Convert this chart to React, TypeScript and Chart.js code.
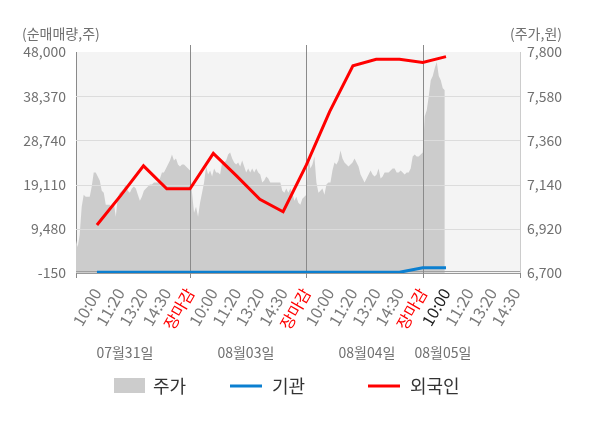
import { useEffect, useRef } from "react";
import { Chart, registerables } from "chart.js";

Chart.register(...registerables);

const FONT = "'Noto Sans CJK KR', 'Noto Sans', sans-serif";

// x-axis slot labels (5 slots per trading day, last one = close)
const timeLabels = ["10:00", "11:20", "13:20", "14:30", "장마감"];
const dates = ["07월31일", "08월03일", "08월04일", "08월05일"];
const leftTicks = [-150, 9480, 19110, 28740, 38370, 48000];
const rightTicks = [6700, 6920, 7140, 7360, 7580, 7800];

// intraday price (원), evenly sampled through each day
const price0731 = [
  6870, 6830, 6890, 7030, 7090, 7080, 7080, 7080, 7130, 7200,
  7200, 7180, 7160, 7110, 7100, 7040, 7040, 7040, 7020, 7050,
  6980, 7080, 7100, 7110, 7120, 7140, 7110, 7100, 7120, 7130,
  7120, 7090, 7060, 7080, 7110, 7120, 7130, 7140, 7140, 7150,
  7150, 7150, 7170, 7200, 7200, 7220, 7240, 7260, 7290, 7260,
  7270, 7240, 7230, 7240, 7240, 7230, 7220, 7210,
];
const price0803 = [
  7100, 7000, 7030, 6980, 7050, 7100, 7150, 7230, 7190, 7210,
  7180, 7220, 7200, 7200, 7190, 7250, 7250, 7260, 7290, 7300,
  7270, 7250, 7240, 7250, 7230, 7260, 7230, 7200, 7220, 7200,
  7220, 7200, 7220, 7200, 7190, 7150, 7160, 7180, 7170, 7150,
  7150, 7150, 7150, 7150, 7150, 7110, 7100, 7120, 7100, 7120,
  7100, 7060, 7080, 7050, 7040, 7070, 7080, 7090,
];
const price0804 = [
  7280, 7220, 7240, 7280, 7150, 7100, 7110, 7120, 7090, 7140,
  7150, 7150, 7210, 7250, 7240, 7260, 7310, 7270, 7250, 7240,
  7230, 7240, 7250, 7270, 7250, 7230, 7190, 7170, 7150, 7170,
  7190, 7210, 7190, 7180, 7190, 7220, 7170, 7180, 7200, 7200,
  7200, 7210, 7220, 7220, 7200, 7200, 7210, 7200, 7190, 7200,
  7200, 7220, 7280, 7290, 7280, 7280, 7290, 7300,
];
const price0805 = [7480, 7510, 7580, 7660, 7680, 7720, 7750, 7680, 7660, 7620, 7610];

// cumulative net buying (주) at each labelled slot, 07/31 10:00 .. 08/05 10:00
const institution = [0, 0, 0, 0, 0, 0, 0, 0, 0, 0, 0, 0, 0, 0, 1000, 1000];
const foreign = [
  10300, 16600, 23200, 18200, 18200, 25900, 21000, 15900, 13200, 23400,
  35000, 45000, 46400, 46400, 45700, 47000,
];

const SAMPLES_PER_DAY = 58;
const priceDays = [price0731, price0803, price0804, price0805];

const pricePoints = priceDays.flatMap((day, d) =>
  day.map((p, i) => ({ x: d * 5 + ((i + 1) * 5) / SAMPLES_PER_DAY, y: p }))
);
const slotPoints = (vals: number[]) => vals.map((v, i) => ({ x: i + 1, y: v }));

const fmt = (v: number) => Number(v).toLocaleString("en-US");

const decorations = {
  id: "decorations",
  beforeDraw(chart: any) {
    const { ctx, chartArea: a } = chart;
    ctx.save();
    ctx.fillStyle = "#f4f4f4";
    ctx.fillRect(a.left, a.top, a.right - a.left, a.bottom - a.top);
    ctx.restore();
  },
  afterDatasetDraw(chart: any, args: any) {
    if (args.index !== 0) return;
    const { ctx, chartArea: a, scales } = chart;
    ctx.save();
    ctx.lineWidth = 1;
    ctx.strokeStyle = "#dcdcdc";
    leftTicks.slice(1, -1).forEach((v) => {
      const y = Math.round(scales.y.getPixelForValue(v)) + 0.5;
      ctx.beginPath();
      ctx.moveTo(a.left, y);
      ctx.lineTo(a.right, y);
      ctx.stroke();
    });
    ctx.strokeStyle = "#a0a0a0";
    const yb = Math.round(a.bottom) - 1.5;
    ctx.beginPath();
    ctx.moveTo(a.left, yb);
    ctx.lineTo(a.right, yb);
    ctx.stroke();
    ctx.strokeStyle = "#8a8a8a";
    [5, 10, 15].forEach((s) => {
      const x = Math.round(scales.x.getPixelForValue(s)) + 0.5;
      ctx.beginPath();
      ctx.moveTo(x, a.top - 7);
      ctx.lineTo(x, a.bottom + 5);
      ctx.stroke();
    });
    [a.left, a.right].forEach((px: number) => {
      const x = Math.round(px) + 0.5;
      ctx.beginPath();
      ctx.moveTo(x, a.bottom);
      ctx.lineTo(x, a.bottom + 5);
      ctx.stroke();
    });
    ctx.restore();
  },
  afterDraw(chart: any) {
    const { ctx, scales } = chart;
    ctx.save();
    ctx.textBaseline = "middle";
    ctx.fillStyle = "#707070";
    ctx.font = `14px ${FONT}`;
    ctx.textAlign = "left";
    ctx.fillText("(순매매량,주)", 22, 34);
    ctx.textAlign = "right";
    ctx.fillText("(주가,원)", 562, 34);

    // date labels under each day
    const dateSlots = [2.2, 7.4, 12.6, 15.87];
    ctx.textAlign = "center";
    dates.forEach((d, i) => {
      ctx.fillText(d, scales.x.getPixelForValue(dateSlots[i]), 353);
    });

    // legend
    const ly = 386;
    ctx.font = `18px ${FONT}`;
    ctx.textAlign = "left";
    ctx.fillStyle = "#cccccc";
    ctx.fillRect(114, 378, 31, 15);
    ctx.lineWidth = 3;
    ctx.strokeStyle = "#0b7fd0";
    ctx.beginPath();
    ctx.moveTo(230, ly);
    ctx.lineTo(262, ly);
    ctx.stroke();
    ctx.strokeStyle = "#ff0000";
    ctx.beginPath();
    ctx.moveTo(368, ly);
    ctx.lineTo(400, ly);
    ctx.stroke();
    ctx.fillStyle = "#333333";
    ctx.fillText("주가", 153, ly);
    ctx.fillText("기관", 272, ly);
    ctx.fillText("외국인", 410, ly);
    ctx.restore();
  },
};

export default function App() {
  const canvasRef = useRef<HTMLCanvasElement>(null);
  const chartRef = useRef<Chart | null>(null);

  useEffect(() => {
    document.body.style.margin = "0";
    if (!canvasRef.current) return;
    if (chartRef.current) chartRef.current.destroy();

    chartRef.current = new Chart(canvasRef.current, {
      type: "line",
      data: {
        datasets: [
          {
            label: "주가",
            data: pricePoints,
            yAxisID: "y1",
            borderWidth: 0,
            pointRadius: 0,
            backgroundColor: "#cccccc",
            fill: "start",
            order: 3,
          },
          {
            label: "기관",
            data: slotPoints(institution),
            yAxisID: "y",
            borderColor: "#0b7fd0",
            borderWidth: 3,
            pointRadius: 0,
            fill: false,
            order: 2,
          },
          {
            label: "외국인",
            data: slotPoints(foreign),
            yAxisID: "y",
            borderColor: "#ff0000",
            borderWidth: 3,
            pointRadius: 0,
            fill: false,
            order: 1,
          },
        ],
      },
      options: {
        animation: false,
        responsive: true,
        maintainAspectRatio: false,
        layout: { padding: { top: 52, left: 0, right: 0, bottom: 0 } },
        font: { family: FONT },
        plugins: {
          legend: { display: false },
          tooltip: { enabled: false },
        },
        scales: {
          x: {
            type: "linear",
            position: "bottom",
            min: 0.1,
            max: 19.18,
            afterBuildTicks: (s: any) => {
              s.ticks = Array.from({ length: 19 }, (_, i) => ({ value: i + 1 }));
            },
            afterFit: (s: any) => {
              s.height = 155;
            },
            grid: { display: false, drawTicks: false },
            border: { display: true, color: "#999999" },
            ticks: {
              autoSkip: false,
              minRotation: 60,
              maxRotation: 60,
              padding: 12,
              font: { size: 16, family: FONT },
              color: (c: any) => {
                const v = c.tick ? c.tick.value : 0;
                if ((v - 1) % 5 === 4) return "#ff0000";
                if (v === 16) return "#222222";
                return "#7a7a7a";
              },
              callback: (v: any) => timeLabels[(Number(v) - 1) % 5],
            },
          },
          y: {
            position: "left",
            min: -150,
            max: 48000,
            afterBuildTicks: (s: any) => {
              s.ticks = leftTicks.map((v) => ({ value: v }));
            },
            afterFit: (s: any) => {
              s.width = 76;
            },
            grid: { display: false, drawTicks: false },
            border: { display: true, color: "#8a8a8a" },
            ticks: {
              padding: 10,
              color: "#707070",
              font: { size: 14, family: FONT },
              callback: (v: any) => fmt(v),
            },
          },
          y1: {
            position: "right",
            min: 6700,
            max: 7800,
            afterBuildTicks: (s: any) => {
              s.ticks = rightTicks.map((v) => ({ value: v }));
            },
            afterFit: (s: any) => {
              s.width = 80;
            },
            grid: { display: false, drawTicks: false },
            border: { display: true, color: "#cccccc" },
            ticks: {
              padding: 7,
              color: "#707070",
              font: { size: 14, family: FONT },
              callback: (v: any) => fmt(v),
            },
          },
        },
      } as any,
      plugins: [decorations],
    });

    return () => {
      if (chartRef.current) {
        chartRef.current.destroy();
        chartRef.current = null;
      }
    };
  }, []);

  return (
    <div style={{ width: 600, height: 428 }}>
      <canvas ref={canvasRef} />
    </div>
  );
}
